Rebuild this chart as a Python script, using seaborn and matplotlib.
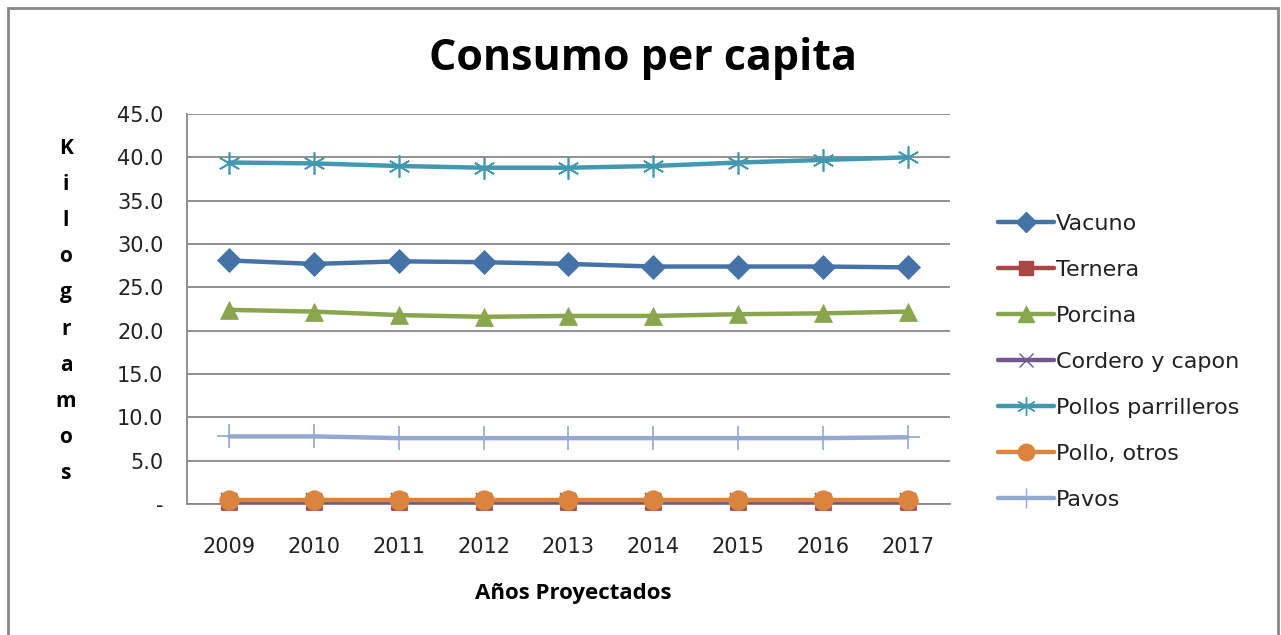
import numpy as np
import pandas as pd
import matplotlib
matplotlib.use("Agg")
import matplotlib.pyplot as plt
from matplotlib.lines import Line2D
from matplotlib.patches import Rectangle
import seaborn as sns

years = ["2009", "2010", "2011", "2012", "2013", "2014", "2015", "2016", "2017"]
vacuno = [28.1, 27.7, 28.0, 27.9, 27.7, 27.4, 27.4, 27.4, 27.3]
ternera = [0.2, 0.2, 0.2, 0.2, 0.2, 0.2, 0.2, 0.2, 0.2]
porcina = [22.4, 22.2, 21.8, 21.6, 21.7, 21.7, 21.9, 22.0, 22.2]
cordero = [0.3, 0.3, 0.3, 0.3, 0.3, 0.3, 0.3, 0.3, 0.3]
pollos_parrilleros = [39.4, 39.3, 39.0, 38.8, 38.8, 39.0, 39.4, 39.7, 40.0]
pollo_otros = [0.5, 0.5, 0.5, 0.5, 0.5, 0.5, 0.5, 0.5, 0.5]
pavos = [7.8, 7.8, 7.6, 7.6, 7.6, 7.6, 7.6, 7.6, 7.7]

series = {
    "Vacuno": vacuno,
    "Ternera": ternera,
    "Porcina": porcina,
    "Cordero y capon": cordero,
    "Pollos parrilleros": pollos_parrilleros,
    "Pollo, otros": pollo_otros,
    "Pavos": pavos,
}
colors = ["#4572A7", "#AA4643", "#89A54E", "#71588F", "#4198AF", "#DB843D", "#93A9CF"]
markers = ["D", "s", "^", "x", (6, 2, 0), "o", "+"]
msizes = [12, 12, 13, 12, 16, 14, 17]

sns.set_style("white")
plt.rcParams["font.family"] = ["DejaVu Sans"]
plt.rcParams["text.color"] = "#111111"

fig = plt.figure(figsize=(12.81, 6.35), dpi=100)
ax = fig.add_axes([187 / 1281, 1 - 504 / 635, (950 - 187) / 1281, 390 / 635])

# draw order: later series on top (orange over red)
for (name, vals), c, m, ms in zip(series.items(), colors, markers, msizes):
    df = pd.DataFrame({"year": years, "kg": vals})
    thin = m in ("x", "+") or isinstance(m, tuple)
    sns.lineplot(data=df, x="year", y="kg", ax=ax, color=c, lw=3.2,
                 marker=m, markersize=ms, markeredgecolor=c,
                 markeredgewidth=1.2 if thin else 0.5,
                 legend=False, clip_on=False, zorder=3)

ax.set_xlim(-0.5, 8.5)
ax.set_ylim(0, 45)
ax.set_yticks(np.arange(0, 46, 5))
ax.set_yticklabels(["-"] + [f"{v:.1f}" for v in np.arange(5, 46, 5)])
ax.yaxis.grid(True, color="#888888", lw=1.3)
ax.set_axisbelow(True)

# x ticks between categories, labels at centers
ax.set_xticks(np.arange(-0.5, 9, 1))
ax.set_xticklabels([])
ax.set_xticks(range(len(years)), minor=True)
ax.set_xticklabels(years, minor=True)
ax.tick_params(axis="x", which="major", length=7, color="#888888", width=1.2, direction="out")
ax.tick_params(axis="x", which="minor", length=0, pad=24, labelsize=15, labelcolor="#222222")
ax.tick_params(axis="y", length=7, color="#888888", width=1.2, direction="out", pad=10,
               labelsize=15, labelcolor="#222222")
for s in ["top", "right"]:
    ax.spines[s].set_visible(False)
for s in ["left", "bottom"]:
    ax.spines[s].set_color("#888888")
    ax.spines[s].set_linewidth(1.3)
ax.set_xlabel("")
ax.set_ylabel("")

handles = [Line2D([0], [0], color=c, lw=3.2, marker=m, markersize=ms * 0.85,
                  markeredgecolor=c, markeredgewidth=1.0)
           for c, m, ms in zip(colors, markers, msizes)]
fig.legend(handles, list(series.keys()), loc="upper left",
           bbox_to_anchor=(978 / 1281, 1 - 194 / 635), frameon=False,
           fontsize=16, handlelength=2.5, handletextpad=0.1, labelspacing=1.17,
           labelcolor="#222222")

fig.text(643 / 1281, 1 - 58 / 635, "Consumo per capita", ha="center", va="center",
         fontsize=31, fontweight="bold", family="Open Sans", color="black")
fig.text(66 / 1281, 1 - 311 / 635, "\n".join("Kilogramos"), ha="center", va="center",
         fontsize=15, fontweight="bold", linespacing=1.94, family="Open Sans", color="black")
fig.text(573 / 1281, 1 - 594 / 635, "Años Proyectados", ha="center", va="center",
         fontsize=16, fontweight="bold", family="Open Sans", color="black")

fig.patches.append(Rectangle((8 / 1281, -0.01), 1270 / 1281, 1 - 8 / 635 + 0.01,
                             transform=fig.transFigure, fill=False,
                             edgecolor="#888888", lw=2))

fig.savefig("out.png", dpi=100)
